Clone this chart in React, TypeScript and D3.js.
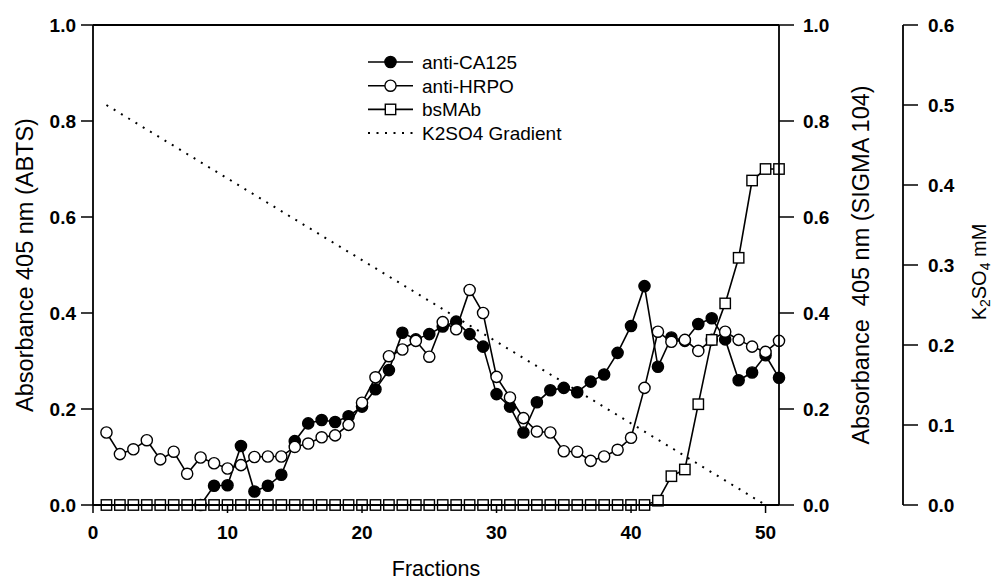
import React from 'react';
import * as d3 from 'd3';

// fraction numbers collected off the column
const fractions = [
  1, 2, 3, 4, 5, 6, 7, 8, 9, 10, 11, 12, 13, 14, 15, 16, 17, 18, 19, 20,
  21, 22, 23, 24, 25, 26, 27, 28, 29, 30, 31, 32, 33, 34, 35, 36, 37, 38, 39, 40,
  41, 42, 43, 44, 45, 46, 47, 48, 49, 50, 51,
];

// anti-CA125 only read from fraction 8 on
const ca125Fractions = fractions.slice(7);
const antiCA125 = [
  0.0, 0.04, 0.041, 0.123, 0.028, 0.04, 0.063, 0.133, 0.17, 0.177,
  0.173, 0.185, 0.205, 0.241, 0.281, 0.359, 0.345, 0.356, 0.372, 0.382,
  0.356, 0.33, 0.231, 0.205, 0.151, 0.214, 0.239, 0.244, 0.235, 0.257,
  0.272, 0.317, 0.373, 0.456, 0.288, 0.349, 0.342, 0.377, 0.389, 0.345,
  0.26, 0.276, 0.312, 0.265,
];

const antiHRPO = [
  0.151, 0.106, 0.116, 0.135, 0.095, 0.111, 0.065, 0.099, 0.087, 0.076,
  0.083, 0.1, 0.101, 0.101, 0.121, 0.128, 0.141, 0.145, 0.167, 0.213,
  0.266, 0.31, 0.324, 0.342, 0.309, 0.381, 0.366, 0.448, 0.4, 0.267,
  0.224, 0.181, 0.153, 0.151, 0.112, 0.111, 0.092, 0.101, 0.115, 0.14,
  0.244, 0.361, 0.34, 0.344, 0.321, 0.344, 0.361, 0.344, 0.33, 0.319, 0.342,
];

const bsMAb = [
  0, 0, 0, 0, 0, 0, 0, 0, 0, 0,
  0, 0, 0, 0, 0, 0, 0, 0, 0, 0,
  0, 0, 0, 0, 0, 0, 0, 0, 0, 0,
  0, 0, 0, 0, 0, 0, 0, 0, 0, 0,
  0, 0.009, 0.06, 0.074, 0.21, 0.344, 0.42, 0.515, 0.676, 0.7, 0.7,
];

// K2SO4 gradient end points (mM)
const gradientFractions = [1, 50];
const gradientMM = [0.5, 0.0];

const xTicks = [0, 10, 20, 30, 40, 50];
const absTicks = [0, 0.2, 0.4, 0.6, 0.8, 1.0];
const kTicks = [0, 0.1, 0.2, 0.3, 0.4, 0.5, 0.6];

const legendLabels = ['anti-CA125', 'anti-HRPO', 'bsMAb', 'K2SO4 Gradient'];

const W = 993;
const H = 582;
const left = 93, right = 779, top = 25, bottom = 505;
const kAxisX = 903;
const font = '"Liberation Sans", Arial, Helvetica, sans-serif';

const x = d3.scaleLinear().domain([0, 51]).range([left, right]);
const y = d3.scaleLinear().domain([0, 1]).range([bottom, top]);
const yK = d3.scaleLinear().domain([0, 0.6]).range([bottom, top]);
const fmt = d3.format('.1f');

type Pt = [number, number];
const line = d3.line<Pt>().x(d => x(d[0])).y(d => y(d[1]));
const kLine = d3.line<Pt>().x(d => x(d[0])).y(d => yK(d[1]));

const zip = (xs: number[], vs: number[]): Pt[] => vs.map((v, i) => [xs[i], v]);

const Marker = ({ kind, cx, cy }: { kind: string; cx: number; cy: number }) => {
  if (kind === 'square') {
    return <rect x={cx - 5.2} y={cy - 5.2} width={10.4} height={10.4} fill="#fff" stroke="#000" strokeWidth={1.4} />;
  }
  return <circle cx={cx} cy={cy} r={5.6} fill={kind === 'filled' ? '#000' : '#fff'} stroke="#000" strokeWidth={1.4} />;
};

const App = () => {
  const series = [
    { kind: 'filled', pts: zip(ca125Fractions, antiCA125) },
    { kind: 'open', pts: zip(fractions, antiHRPO) },
    { kind: 'square', pts: zip(fractions, bsMAb) },
  ];
  const gradPts = zip(gradientFractions, gradientMM);
  const legendY = (i: number) => 62 + i * 23.7;

  return (
    <svg width={W} height={H} style={{ position: 'absolute', left: 0, top: 0, background: '#fff' }} fontFamily={font}>
      <rect width={W} height={H} fill="#fff" />

      {/* gradient */}
      <path d={kLine(gradPts) || ''} fill="none" stroke="#000" strokeWidth={2} strokeDasharray="2 6.5" />

      {/* series */}
      {series.map(s => (
        <g key={s.kind}>
          <path d={line(s.pts) || ''} fill="none" stroke="#000" strokeWidth={1.6} />
          {s.pts.map((p, i) => <Marker key={i} kind={s.kind} cx={x(p[0])} cy={y(p[1])} />)}
        </g>
      ))}

      {/* frame */}
      <g stroke="#000" strokeWidth={1.8} fill="none">
        <line x1={left} x2={right} y1={top} y2={top} />
        <line x1={left} x2={right} y1={bottom} y2={bottom} />
        <line x1={left} x2={left} y1={top} y2={bottom} />
        <line x1={right} x2={right} y1={top} y2={bottom} />
        <line x1={kAxisX} x2={kAxisX} y1={yK(0)} y2={yK(0.6)} />
      </g>

      {/* x axis */}
      {xTicks.map(t => (
        <g key={'x' + t}>
          <line x1={x(t)} x2={x(t)} y1={bottom} y2={bottom + 8} stroke="#000" strokeWidth={1.5} />
          <text x={x(t)} y={539} textAnchor="middle" fontSize={19} fontWeight="bold">{t}</text>
        </g>
      ))}
      <text x={(left + right) / 2} y={576} textAnchor="middle" fontSize={21.5}>Fractions</text>

      {/* left axis */}
      {absTicks.map(t => (
        <g key={'l' + t}>
          <line x1={left - 12} x2={left} y1={y(t)} y2={y(t)} stroke="#000" strokeWidth={1.5} />
          <text x={left - 17} y={y(t)} dy="0.36em" textAnchor="end" fontSize={19} fontWeight="bold">{fmt(t)}</text>
        </g>
      ))}
      <text transform={`translate(33,${(top + bottom) / 2}) rotate(-90)`} textAnchor="middle" fontSize={23.5}>
        Absorbance 405 nm (ABTS)
      </text>

      {/* right axis */}
      {absTicks.map(t => (
        <g key={'r' + t}>
          <line x1={right} x2={right + 15} y1={y(t)} y2={y(t)} stroke="#000" strokeWidth={1.5} />
          <text x={right + 24} y={y(t)} dy="0.36em" textAnchor="start" fontSize={19} fontWeight="bold">{fmt(t)}</text>
        </g>
      ))}
      <text transform={`translate(869,${(top + bottom) / 2}) rotate(-90)`} textAnchor="middle" fontSize={23.5} style={{ whiteSpace: 'pre' }}>
        {'Absorbance  405 nm (SIGMA 104)'}
      </text>

      {/* K2SO4 axis */}
      {kTicks.map(t => (
        <g key={'k' + t}>
          <line x1={kAxisX} x2={kAxisX + 15} y1={yK(t)} y2={yK(t)} stroke="#000" strokeWidth={1.5} />
          <text x={kAxisX + 25} y={yK(t)} dy="0.36em" textAnchor="start" fontSize={19} fontWeight="bold">{fmt(t)}</text>
        </g>
      ))}
      <text transform={`translate(986,${(top + bottom) / 2 + 7}) rotate(-90)`} textAnchor="middle" fontSize={20}>
        K<tspan fontSize={14} dy={4}>2</tspan><tspan dy={-4}>SO</tspan><tspan fontSize={14} dy={4}>4</tspan><tspan dy={-4}> mM</tspan>
      </text>

      {/* legend */}
      {legendLabels.map((lab, i) => (
        <g key={lab}>
          {i < 3 ? (
            <>
              <line x1={368} x2={413} y1={legendY(i)} y2={legendY(i)} stroke="#000" strokeWidth={1.6} />
              <Marker kind={series[i].kind} cx={390.5} cy={legendY(i)} />
            </>
          ) : (
            <line x1={368} x2={413} y1={legendY(i)} y2={legendY(i)} stroke="#000" strokeWidth={2} strokeDasharray="2 6.5" />
          )}
          <text x={422} y={legendY(i)} dy="0.36em" fontSize={19}>{lab}</text>
        </g>
      ))}
    </svg>
  );
};

export default App;
